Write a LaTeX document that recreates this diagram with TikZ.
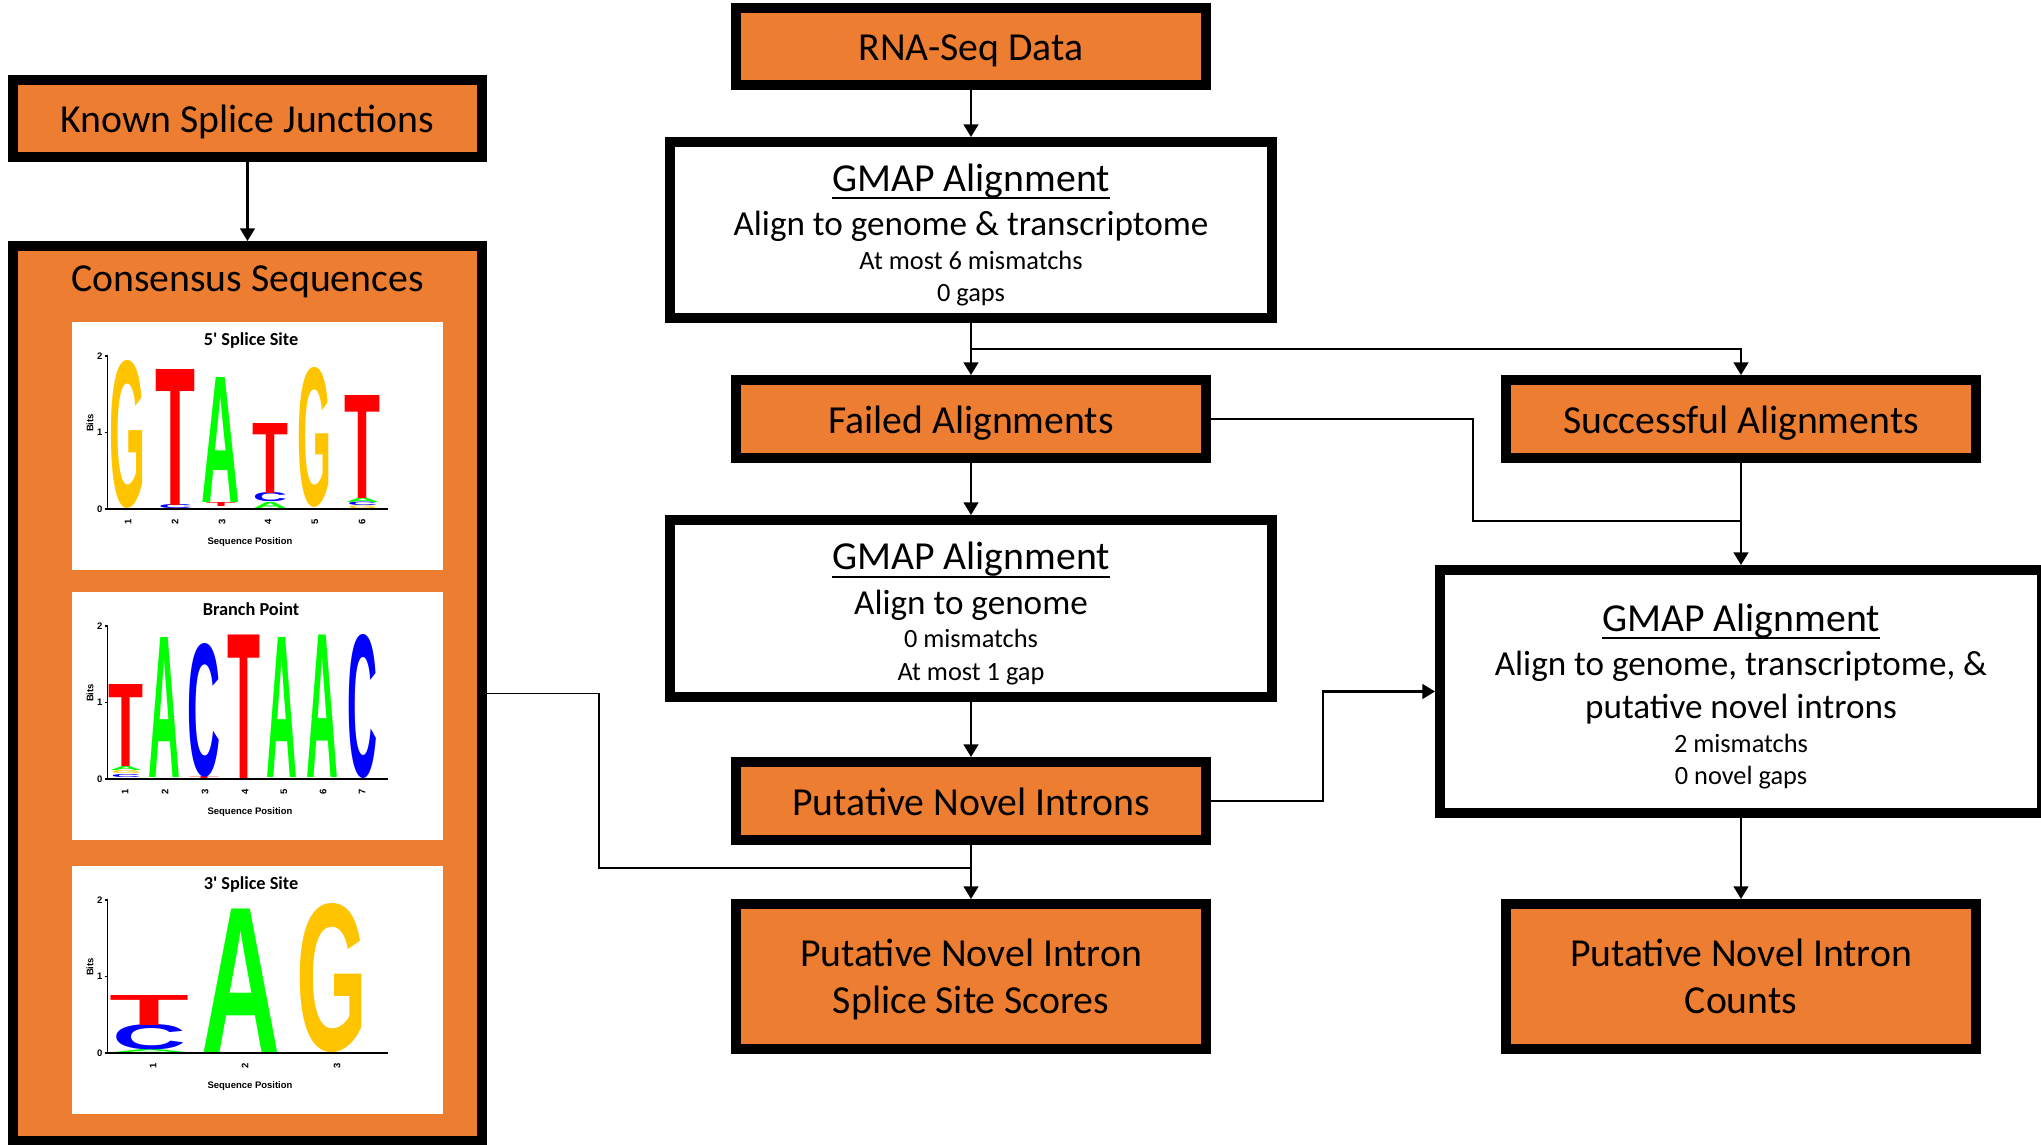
\documentclass[tikz,border=0pt]{standalone}
\usepackage{fontspec}
\setmainfont{Carlito}
\newfontfamily\logofont{Liberation Sans}
\usepackage{graphicx}
\usepackage{xcolor}
\usetikzlibrary{arrows.meta, positioning}

\definecolor{boxorange}{HTML}{ED7D31}
\definecolor{logored}{HTML}{FF0000}
\definecolor{logogreen}{HTML}{00FF00}
\definecolor{logoblue}{HTML}{0000FF}
\definecolor{logoyellow}{HTML}{FFC400}

\newcommand{\mainsize}{\fontsize{11.3}{13.3}\selectfont}
\newcommand{\gmapsize}{\fontsize{11.3}{12.6}\selectfont}
\newcommand{\subsize}{\fontsize{10}{12}\selectfont}
\newcommand{\smallsize}{\fontsize{7.5}{9}\selectfont}
\newcommand{\logotitle}{\bfseries\fontsize{5.2}{6}\selectfont}
\newcommand{\logoaxis}{\logofont\bfseries\fontsize{2.7}{3}\selectfont}

\newlength\pxunit
\setlength\pxunit{0.1mm}
\newlength\ulwidth
\newcommand{\titleul}[1]{\settowidth{\ulwidth}{#1}\rule{0pt}{\dimexpr\fontcharht\font`\l+2.9pt\relax}\rlap{\rule[-2.2pt]{\ulwidth}{0.55pt}}#1}

% one stretched letter of a sequence logo: x, base y, height, width, colour, letter
\newcommand{\logoletter}[6]{%
  \node [anchor=south, inner sep=0pt, outer sep=0pt, text=#5] at (#1,#2)
    {\resizebox{#4\pxunit}{#3\pxunit}{\logofont\bfseries #6}};}

% white logo panel with axes: zero line y, title, tick positions
\newcommand{\logopanel}[3]{%
  \fill [white] (72,#1-187) rectangle (443,#1+61);
  \node [font=\logotitle, anchor=base] at (251,#1-164) {#2};
  \draw [line width=0.45pt] (107.5,#1-153) -- (107.5,#1) -- (388,#1);
  \foreach \bitval in {0,1,2} {
    \draw [line width=0.4pt] (104.5,#1-76.5*\bitval) -- (107.5,#1-76.5*\bitval);
    \node [font=\logoaxis, anchor=east, inner sep=0pt] at (103,#1-76.5*\bitval) {\bitval};
  }
  \foreach \pos [count=\n] in {#3}
    \node [font=\logoaxis, rotate=90] at (\pos,#1+13) {\n};
  \node [font=\logoaxis, rotate=90] at (90,#1-86) {Bits};
  \node [font=\logoaxis] at (250,#1+33) {Sequence Position};
}

\begin{document}
\begin{tikzpicture}[x=0.1mm, y=-0.1mm, node distance=5.2mm and 29mm, >={Triangle[width=4.2pt,length=3.6pt]}]

        % Define styles
        \tikzstyle{block} = [rectangle, draw, line width=1mm, fill=boxorange, minimum width=47mm, minimum height=7.8mm, inner sep=0pt, align=center, font=\mainsize]
        \tikzstyle{single} = [block, text height=3.3mm, text depth=0.5mm]
        \tikzstyle{gmap} = [rectangle, draw, line width=1mm, fill=white, minimum width=60.2mm, minimum height=17.6mm, inner sep=0pt, align=center, font=\gmapsize]
        \tikzstyle{line} = [draw, line width=0.6pt, ->]
        \tikzstyle{feed} = [draw, line width=0.35pt]

        \useasboundingbox (0,0) rectangle (2041,1144);

        % Left column
        \node [single, minimum width=46.9mm, minimum height=7.7mm] (known) at (247.5,118.5) {Known Splice Junctions};
        \node [block, below=7.9mm of known, minimum width=46.9mm, minimum height=89.5mm] (consensus) {};
        \node [font=\mainsize] (consensustitle) at ([yshift=-4.1mm]consensus.north) {Consensus Sequences};

        % Middle column
        \node [single, minimum height=7.7mm] (rna) at (971,46.5) {RNA-Seq Data};
        \node [gmap, below=4.7mm of rna] (gmapone) {\titleul{GMAP Alignment}\\
            \subsize Align to genome \& transcriptome\\[-3.1pt]
            \smallsize At most 6 mismatchs\\[-3.4pt]
            \smallsize 0 gaps};
        \node [single, below=of gmapone] (failed) {Failed Alignments};
        \node [gmap, below=of failed, minimum height=17.7mm] (gmaptwo) {\titleul{GMAP Alignment}\\
            \subsize Align to genome\\[-3.0pt]
            \smallsize 0 mismatchs\\[-3.4pt]
            \smallsize At most 1 gap};
        \node [single, below=5.5mm of gmaptwo] (novel) {Putative Novel Introns};
        \node [block, below=5.4mm of novel, minimum height=14.5mm, text depth=0mm] (scores) {Putative Novel Intron\\Splice Site Scores};

        % Right column
        \node [single, right=of failed] (successful) {Successful Alignments};
        \node [gmap, below=10.2mm of successful, minimum height=24.3mm] (gmapthree) {\titleul{GMAP Alignment}\\
            \subsize Align to genome, transcriptome, \&\\[-0.5pt]
            \subsize putative novel introns\\[-3.0pt]
            \smallsize 2 mismatchs\\[-3.4pt]
            \smallsize 0 novel gaps};
        \node [block, below=8.1mm of gmapthree, minimum height=14.5mm, text depth=0mm] (counts) {Putative Novel Intron\\Counts};

        % Merge points
        \coordinate (merge) at ([yshift=-5.8mm]successful.south);
        \coordinate (scoresjoin) at ([yshift=3.1mm]scores.north);

        % Draw edges
        \path [line] (known) -- (consensus);
        \path [line] (rna) -- (gmapone);
        \path [line] (gmapone) -- (failed);
        \path [line] (gmapone.south) -- ++(0,26) -| (successful.north);
        \path [line] (failed) -- (gmaptwo);
        \path [line] (gmaptwo) -- (novel);
        \path [line] (novel) -- (scores);
        \path [line] (successful) -- (gmapthree);
        \path [line] (gmapthree) -- (counts);
        \path [line] (novel.east) -- ++(112,0) |- (gmapthree.west);
        \path [feed] (failed.east) -- ++(262,0) |- (merge);
        \path [feed] (consensus.east) -- ++(112,0) |- (scoresjoin);

        % 5' splice site logo
        \logopanel{509}{5\textquotesingle{} Splice Site}{128,175,222,268,315,362}
        \logoletter{127.5}{509}{146}{36}{logoyellow}{G}
        \logoletter{175.5}{509}{4}{34}{logoblue}{C}
        \logoletter{175.5}{505}{136}{40}{logored}{T}
        \logoletter{221}{506}{4}{30}{logored}{T}
        \logoletter{221}{502}{125}{38.5}{logogreen}{A}
        \logoletter{270}{508}{6}{34}{logogreen}{A}
        \logoletter{270}{502}{9}{34}{logoblue}{C}
        \logoletter{270}{493}{70}{36}{logored}{T}
        \logoletter{314.5}{507}{138}{34}{logoyellow}{G}
        \logoletter{362.5}{509}{2.5}{30}{logoyellow}{G}
        \logoletter{362.5}{506}{3.5}{30}{logoblue}{C}
        \logoletter{362.5}{502.5}{4.5}{34}{logogreen}{A}
        \logoletter{362.5}{498}{103}{36}{logored}{T}

        % branch point logo
        \logopanel{779}{Branch Point}{125,165,205,245,284,323,362}
        \logoletter{126}{778}{3}{30}{logoblue}{C}
        \logoletter{126}{774}{3}{30}{logoyellow}{G}
        \logoletter{126}{770.5}{4}{33}{logogreen}{A}
        \logoletter{126}{766.5}{82}{35}{logored}{T}
        \logoletter{164}{777}{140}{32}{logogreen}{A}
        \logoletter{204}{779}{2}{30}{logored}{T}
        \logoletter{204}{777}{132}{33}{logoblue}{C}
        \logoletter{244}{778}{143.5}{33}{logored}{T}
        \logoletter{282}{777}{140}{31}{logogreen}{A}
        \logoletter{322}{777}{142.5}{32}{logogreen}{A}
        \logoletter{362}{778}{142}{30}{logoblue}{C}

        % 3' splice site logo
        \logopanel{1053}{3\textquotesingle{} Splice Site}{153,245,337}
        \logoletter{150}{1053}{3}{76}{logogreen}{A}
        \logoletter{150}{1050}{25}{74}{logoblue}{C}
        \logoletter{150}{1025}{30}{80}{logored}{T}
        \logoletter{241}{1052}{143.5}{79}{logogreen}{A}
        \logoletter{332}{1053}{147}{71}{logoyellow}{G}

\end{tikzpicture}
\end{document}
